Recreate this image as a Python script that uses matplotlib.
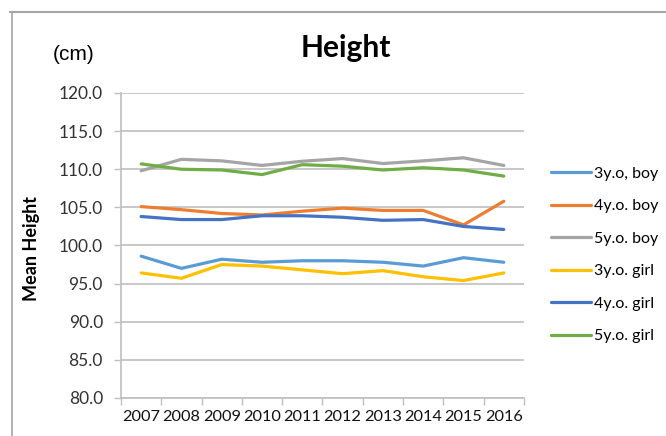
import numpy as np
import matplotlib
matplotlib.use("Agg")
import matplotlib.pyplot as plt
from matplotlib.lines import Line2D

plt.rcParams['font.family'] = ['Lato', 'DejaVu Sans']

years = ['2007', '2008', '2009', '2010', '2011', '2012', '2013', '2014', '2015', '2016']

boy_3 = [98.6, 97.0, 98.2, 97.8, 98.0, 98.0, 97.8, 97.3, 98.4, 97.8]
boy_4 = [105.1, 104.7, 104.2, 104.0, 104.5, 104.9, 104.6, 104.6, 102.7, 105.8]
boy_5 = [109.8, 111.3, 111.1, 110.5, 111.05, 111.4, 110.75, 111.1, 111.5, 110.5]
girl_3 = [96.4, 95.7, 97.5, 97.3, 96.8, 96.3, 96.7, 95.9, 95.4, 96.4]
girl_4 = [103.8, 103.4, 103.4, 103.9, 103.9, 103.7, 103.3, 103.4, 102.5, 102.1]
girl_5 = [110.7, 110.0, 109.9, 109.3, 110.6, 110.4, 109.9, 110.2, 109.9, 109.1]

series = [
    ('3y.o, boy', boy_3, '#5B9BD5'),
    ('4y.o. boy', boy_4, '#ED7D31'),
    ('5y.o. boy', boy_5, '#A5A5A5'),
    ('3y.o. girl', girl_3, '#FFC000'),
    ('4y.o. girl', girl_4, '#4472C4'),
    ('5y.o. girl', girl_5, '#70AD47'),
]

fig = plt.figure(figsize=(6.66, 4.36), dpi=100)
ax = fig.add_axes([0.1817, 0.0872, 0.605, 0.6995])

x = np.arange(len(years))
for label, vals, col in series:
    ax.plot(x, vals, color=col, lw=2.3, label=label, solid_capstyle='round')

ax.set_xlim(-0.5, len(years) - 0.5)
ax.set_ylim(80, 120)
ax.set_yticks(np.arange(80, 121, 5))
ax.set_yticklabels([f'{v:.1f}' for v in np.arange(80, 121, 5)])
ax.yaxis.grid(True, color='#BFBFBF', lw=1.2)
ax.set_axisbelow(True)

ax.set_xticks(x)
ax.set_xticklabels(years)
ax.set_xticks(np.arange(-0.5, len(years)), minor=True)
ax.tick_params(axis='x', which='major', length=0, pad=9, labelsize=11.8, colors='#111111')
ax.tick_params(axis='x', which='minor', length=5, width=1, color='#BFBFBF')
ax.tick_params(axis='y', length=5, width=1, color='#BFBFBF', pad=8, labelsize=12.5, labelcolor='#333333')

for side in ['top', 'right']:
    ax.spines[side].set_visible(False)
ax.spines['left'].set_color('#BFBFBF')
ax.spines['bottom'].set_color('#BFBFBF')
ax.spines['left'].set_linewidth(1.2)
ax.spines['bottom'].set_linewidth(1.2)

ax.set_ylabel('Mean Height', fontsize=13, fontweight='bold')
ax.yaxis.set_label_coords(-0.2, 0.49)

fig.text(0.519, 0.89, 'Height', ha='center', va='center', fontsize=21.5, fontweight='bold')
fig.text(0.111, 0.876, '(cm)', ha='center', va='center', fontsize=15,
         family=['Liberation Sans', 'DejaVu Sans'])

fig.legend(loc='upper left', bbox_to_anchor=(0.818, 0.633), frameon=False,
           fontsize=11.5, handlelength=2.5, handletextpad=0.15, labelspacing=1.15,
           borderaxespad=0)

# chart area border
fig.add_artist(Line2D([0.015, 1.0], [0.972, 0.972], color='#A6A6A6', lw=1.5))
fig.add_artist(Line2D([0.0175, 0.0175], [0.0, 0.972], color='#A6A6A6', lw=1.2))

fig.savefig('out.png', dpi=100)
